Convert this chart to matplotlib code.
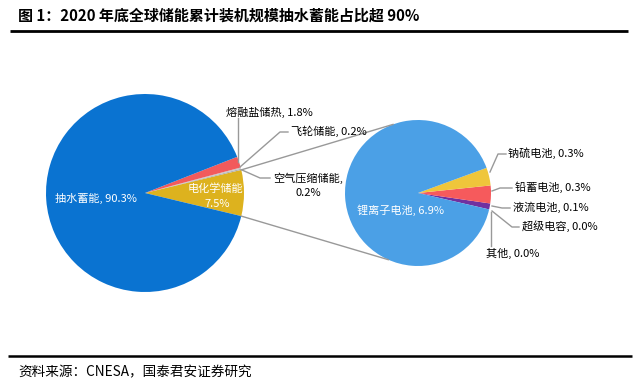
import matplotlib.pyplot as plt
import numpy as np

plt.rcParams['font.family'] = ['Noto Sans CJK SC', 'DejaVu Sans']

# --- data ---
main_labels = ['电化学储能', '空气压缩储能', '飞轮储能', '熔融盐储热', '抽水蓄能']
main_values = [7.5, 0.2, 0.2, 1.8, 90.3]
main_colors = ['#DDB21E', '#B0B0B0', '#C8C8C8', '#F25A5C', '#0A73D1']

sub_labels = ['其他', '超级电容', '液流电池', '铅蓄电池', '钠硫电池', '锂离子电池']
sub_values = [0.0, 0.0, 0.1, 0.3, 0.3, 6.9]
sub_colors = ['#888888', '#999999', '#7030A0', '#F65A5C', '#EFC63B', '#4BA0E6']

title = '图 1：2020 年底全球储能累计装机规模抽水蓄能占比超 90%'
source = '资料来源：CNESA，国泰君安证券研究'

W, H = 636, 384
fig = plt.figure(figsize=(W / 100, H / 100), dpi=100)
ax = fig.add_axes([0, 0, 1, 1])

def Y(y):
    return H - y

# main pie
c1 = (145, Y(193))
r1 = 99
start1 = -main_values[0] / 100 * 360 / 2
w1, _ = ax.pie(main_values, colors=main_colors, startangle=start1, counterclock=True,
               center=c1, radius=r1, wedgeprops=dict(linewidth=0))

# secondary pie
c2 = (418, Y(193))
r2 = 73
start2 = -13
w2, _ = ax.pie(sub_values, colors=sub_colors, startangle=start2, counterclock=True,
               center=c2, radius=r2, wedgeprops=dict(linewidth=0))

ax.set_xlim(0, W)
ax.set_ylim(0, H)
ax.set_aspect('equal')
ax.axis('off')

lc = '#999999'

# connector lines between pies
a_top = np.deg2rad(main_values[0] / 100 * 360 / 2)
p1 = (c1[0] + r1 * np.cos(a_top), c1[1] + r1 * np.sin(a_top))
p2 = (c1[0] + r1 * np.cos(-a_top), c1[1] + r1 * np.sin(-a_top))
q1 = (c2[0] + r2 * np.cos(np.deg2rad(110)), c2[1] + r2 * np.sin(np.deg2rad(110)))
q2 = (c2[0] + r2 * np.cos(np.deg2rad(-114)), c2[1] + r2 * np.sin(np.deg2rad(-114)))
ax.plot([p1[0], q1[0]], [p1[1], q1[1]], color=lc, lw=1)
ax.plot([p2[0], q2[0]], [p2[1], q2[1]], color=lc, lw=1)

fs = 8
fw = 'medium'
# labels inside
ax.text(55, Y(198), f'{main_labels[4]}, {main_values[4]}%', color='white', fontsize=fs,
        ha='left', va='center', fontweight=fw)
ax.text(215, Y(189), main_labels[0], color='white', fontsize=fs, ha='center', va='center',
        fontweight=fw)
ax.text(217, Y(204), f'{main_values[0]}%', color='white', fontsize=fs, ha='center',
        va='center', fontweight=fw)
ax.text(357, Y(210), f'{sub_labels[5]}, {sub_values[5]}%', color='white', fontsize=fs,
        ha='left', va='center', fontweight=fw)

# main pie leaders
ax.plot([238, 238], [Y(162), Y(118)], color=lc, lw=1)
ax.text(226, Y(112), f'{main_labels[3]}, {main_values[3]}%', fontsize=fs, ha='left',
        va='center', fontweight=fw)

ax.plot([240, 280, 288], [Y(167), Y(132), Y(132)], color=lc, lw=1)
ax.text(291, Y(131), f'{main_labels[2]}, {main_values[2]}%', fontsize=fs, ha='left',
        va='center', fontweight=fw)

ax.plot([242, 260, 270], [Y(170), Y(178), Y(178)], color=lc, lw=1)
ax.text(273, Y(178), main_labels[1] + ',', fontsize=fs, ha='left', va='center', fontweight=fw)
ax.text(308, Y(193), f'{main_values[1]}%', fontsize=fs, ha='center', va='center', fontweight=fw)

# secondary pie leaders
ax.plot([490, 498, 506], [Y(172), Y(154), Y(154)], color=lc, lw=1)
ax.text(508, Y(153), f'{sub_labels[4]}, {sub_values[4]}%', fontsize=fs, ha='left',
        va='center', fontweight=fw)

ax.plot([492, 500, 512], [Y(191), Y(188), Y(188)], color=lc, lw=1)
ax.text(515, Y(187), f'{sub_labels[3]}, {sub_values[3]}%', fontsize=fs, ha='left',
        va='center', fontweight=fw)

ax.plot([492, 502, 510], [Y(206), Y(208), Y(208)], color=lc, lw=1)
ax.text(513, Y(207), f'{sub_labels[2]}, {sub_values[2]}%', fontsize=fs, ha='left',
        va='center', fontweight=fw)

ax.plot([492, 512, 519], [Y(211), Y(227), Y(227)], color=lc, lw=1)
ax.text(522, Y(226), f'{sub_labels[1]}, {sub_values[1]}%', fontsize=fs, ha='left',
        va='center', fontweight=fw)

ax.plot([491, 491], [Y(212), Y(246)], color=lc, lw=1)
ax.text(486, Y(253), f'{sub_labels[0]}, {sub_values[0]}%', fontsize=fs, ha='left',
        va='center', fontweight=fw)

# title, rules, source
ax.text(18, Y(16), title, fontsize=10.8, ha='left', va='center', fontweight='bold')
ax.plot([10, 628], [Y(31), Y(31)], color='black', lw=2, solid_capstyle='butt')
ax.plot([8, 632], [Y(356), Y(356)], color='black', lw=1.8, solid_capstyle='butt')
ax.text(18, Y(372), source, fontsize=9.8, ha='left', va='center')

fig.savefig('out.png', dpi=100)
